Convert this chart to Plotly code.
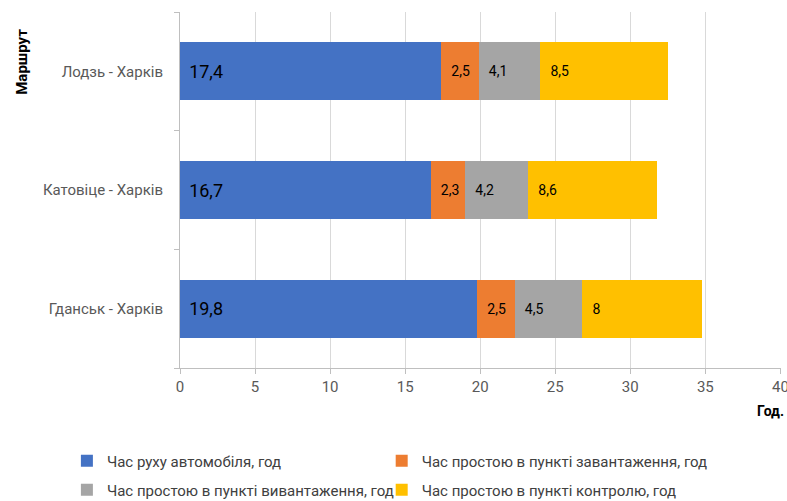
import plotly.graph_objects as go

routes = ["Гданськ - Харків", "Катовіце - Харків", "Лодзь - Харків"]
series_names = [
    "Час руху автомобіля, год",
    "Час простою в пункті завантаження, год",
    "Час простою в пункті вивантаження, год",
    "Час простою в пункті контролю, год",
]
drive = [19.8, 16.7, 17.4]
loading = [2.5, 2.3, 2.5]
unloading = [4.5, 4.2, 4.1]
control = [8, 8.6, 8.5]
x_ticks = [0, 5, 10, 15, 20, 25, 30, 35, 40]

colors = ["#4472C4", "#ED7D31", "#A5A5A5", "#FFC000"]
label_sizes = [18, 14, 14, 14]
pads = ["\u2004", "\u2002", "\u2002", "\u2002"]
legend_ids = ["legend", "legend2", "legend3", "legend4"]
legend_pos = [(0.085, 0.080), (0.485, 0.080), (0.085, 0.022), (0.485, 0.022)]

FONT = "Roboto, 'Open Sans', sans-serif"

fig = go.Figure()
for name, vals, col, fs, pad, lg in zip(series_names, [drive, loading, unloading, control],
                                        colors, label_sizes, pads, legend_ids):
    fig.add_trace(go.Bar(
        y=routes, x=vals, name=name, orientation="h",
        marker=dict(color=col, line=dict(width=0)),
        text=[str(v).replace(".", ",") for v in vals],
        texttemplate=pad + "%{text}",
        textposition="inside", insidetextanchor="start",
        constraintext="none",
        textfont=dict(size=fs, color="#000000", family=FONT),
        hoverinfo="skip", legend=lg,
    ))

legend_layout = {}
for lg, (lx, ly) in zip(legend_ids, legend_pos):
    legend_layout[lg] = dict(
        orientation="h", xref="container", yref="container",
        x=lx, y=ly, xanchor="left", yanchor="middle",
        font=dict(size=15, color="#404040", family=FONT),
        itemwidth=30, bgcolor="rgba(0,0,0,0)",
    )

fig.update_layout(
    width=787, height=501,
    barmode="stack", bargap=0.51,
    paper_bgcolor="white", plot_bgcolor="white",
    margin=dict(l=180, r=6, t=12, b=133, autoexpand=False),
    font=dict(family=FONT, size=15, color="#595959"),
    showlegend=True,
    xaxis=dict(
        range=[0, 40.04], tickvals=x_ticks, ticktext=[str(t) for t in x_ticks],
        showgrid=True, gridcolor="#D9D9D9", gridwidth=1,
        showline=True, linecolor="#BFBFBF", linewidth=1,
        ticks="outside", ticklen=5, tickcolor="#BFBFBF",
        zeroline=False, tickfont=dict(size=15, color="#595959"),
        fixedrange=True, automargin=False, ticklabeloverflow="allow",
    ),
    yaxis=dict(
        type="category", categoryorder="array", categoryarray=routes,
        showline=True, linecolor="#BFBFBF", linewidth=1,
        ticks="outside", ticklen=5, tickcolor="#BFBFBF", tickson="boundaries",
        showgrid=False, tickfont=dict(size=15, color="#595959"),
        ticklabelstandoff=13, automargin=False, fixedrange=True,
    ),
    **legend_layout,
)

fig.add_annotation(text="<b>Маршрут</b>", xref="paper", yref="paper",
                   x=-0.263, y=0.86, textangle=-90, showarrow=False,
                   font=dict(size=15, color="#000000"), xanchor="center", yanchor="middle")
fig.add_annotation(text="<b>Год.</b>", xref="paper", yref="paper",
                   x=1.008, y=-0.12, showarrow=False,
                   font=dict(size=14, color="#000000"), xanchor="right", yanchor="middle")

fig.write_html("out.html", config={"displayModeBar": False},
               post_script="document.body.style.margin='0';")
